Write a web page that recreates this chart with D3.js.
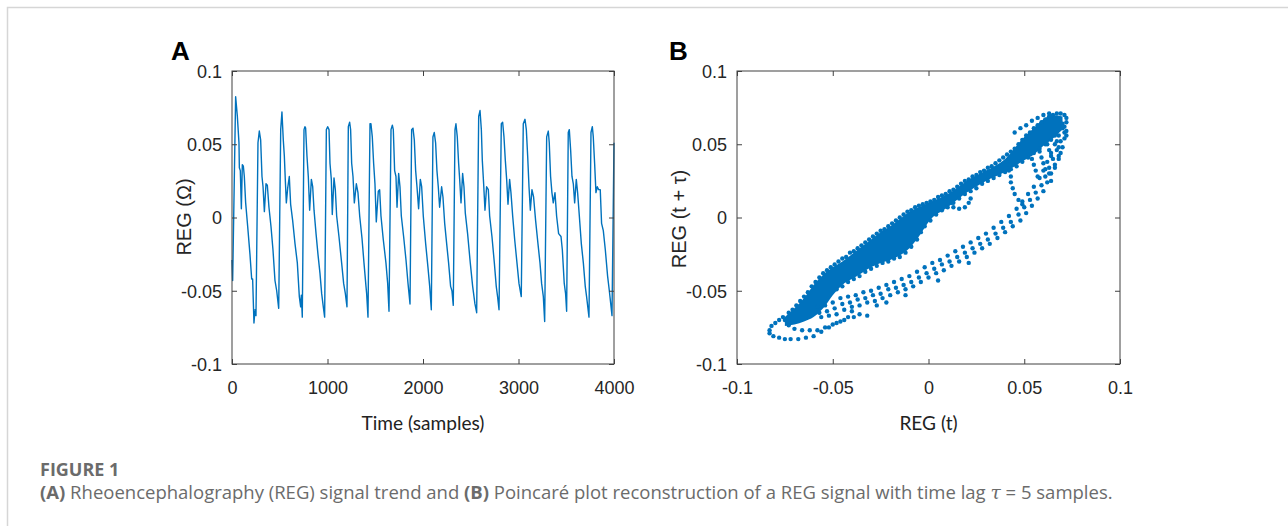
<!DOCTYPE html>
<html lang="en">

<head>
    <meta charset="utf-8">
    <script src="https://d3js.org/d3.v7.min.js"></script>
    <style>
        body { margin: 0; background: #fff; }
    </style>
</head>

<body>
    <script>
        // Panel A: REG signal, vertices (sample index / ohm)
        const regSample = [
            0, 7, 38, 56, 73, 77, 87, 98, 108, 119, 129, 143, 164, 188, 206, 216, 230, 241, 251, 272, 286,
            300, 314, 325, 339, 356, 370, 387, 408, 429, 450, 468, 489, 510, 523,
            537, 548, 558, 569, 583, 600, 614, 635, 660, 684, 705, 719, 726, 736, 754, 764,
            771, 785, 799, 813, 831, 845, 859, 880, 900, 921, 939, 956, 970, 988, 1002,
            1016, 1026, 1040, 1050, 1068, 1082, 1096, 1120, 1148, 1169, 1187, 1204, 1218, 1232,
            1242, 1253, 1267, 1281, 1302, 1319, 1337, 1361, 1382, 1403, 1410, 1424, 1445, 1455,
            1469, 1483, 1497, 1511, 1532, 1546, 1560, 1584, 1612, 1630, 1644, 1665, 1679,
            1689, 1703, 1717, 1728, 1745, 1759, 1773, 1797, 1822, 1843, 1864, 1881, 1895,
            1909, 1923, 1937, 1954, 1972, 1986, 2003, 2028, 2052, 2070, 2087, 2104, 2118,
            2132, 2146, 2160, 2174, 2195, 2209, 2227, 2248, 2268, 2289, 2303, 2317, 2335, 2345,
            2359, 2373, 2384, 2398, 2415, 2429, 2443, 2467, 2495, 2520, 2544, 2562, 2583, 2597,
            2611, 2621, 2635, 2649, 2666, 2684, 2698, 2722, 2747, 2767, 2781, 2796, 2820, 2834,
            2848, 2862, 2876, 2890, 2907, 2921, 2939, 2960, 2984, 3005, 3029, 3050, 3068,
            3082, 3096, 3110, 3124, 3141, 3158, 3179, 3204, 3225, 3242, 3260, 3274, 3295, 3312,
            3322, 3336, 3350, 3364, 3382, 3399, 3420, 3445, 3459, 3479, 3493, 3504, 3521, 3532,
            3546, 3560, 3574, 3588, 3605, 3619, 3637, 3658, 3679, 3699, 3713, 3738, 3759, 3773,
            3783, 3797, 3811, 3825, 3839, 3856, 3870, 3888, 3909, 3933, 3951, 3979, 4000
        ];
        const regValue = [
            -0.029, -0.043, 0.0825, 0.069, 0.051, 0.034, 0.032, 0.006, 0.036, 0.035, 0.028, 0.010, -0.006, -0.025, -0.042, -0.042, -0.072, -0.063, -0.067, 0.051, 0.059,
            0.053, 0.028, 0.021, 0.004, 0.023, 0.022, 0.007, -0.006, -0.022, -0.043, -0.050, -0.062, 0.060, 0.072,
            0.053, 0.042, 0.026, 0.010, 0.020, 0.028, 0.009, -0.002, -0.018, -0.031, -0.054, -0.061, -0.053, -0.068, 0.060, 0.062,
            0.061, 0.042, 0.028, 0.005, 0.026, 0.021, 0.005, -0.011, -0.025, -0.038, -0.052, -0.061, -0.068, 0.060, 0.062,
            0.060, 0.037, 0.026, 0.002, 0.027, 0.019, 0.001, -0.013, -0.031, -0.045, -0.052, -0.061, 0.062, 0.065,
            0.060, 0.037, 0.028, 0.010, 0.023, 0.017, 0.001, -0.014, -0.031, -0.047, -0.052, -0.068, 0.064, 0.064,
            0.055, 0.037, 0.023, -0.003, 0.018, 0.019, 0.001, -0.015, -0.031, -0.045, -0.064, 0.060, 0.063,
            0.060, 0.032, 0.028, 0.007, 0.030, 0.021, 0.001, -0.013, -0.029, -0.045, -0.059, 0.060, 0.061,
            0.053, 0.032, 0.021, 0.006, 0.026, 0.021, 0.001, -0.018, -0.034, -0.047, -0.063, 0.055, 0.058,
            0.051, 0.032, 0.021, 0.007, 0.021, 0.014, -0.004, -0.018, -0.031, -0.047, -0.050, -0.060, 0.060, 0.064,
            0.055, 0.037, 0.026, 0.010, 0.030, 0.021, 0.003, -0.011, -0.031, -0.047, -0.059, -0.065, 0.069, 0.073,
            0.060, 0.039, 0.023, 0.005, 0.021, 0.019, 0.001, -0.013, -0.031, -0.047, -0.054, -0.063, 0.064, 0.065,
            0.055, 0.039, 0.026, 0.009, 0.026, 0.017, 0.001, -0.015, -0.031, -0.045, -0.054, 0.064, 0.067,
            0.060, 0.042, 0.021, 0.005, 0.019, 0.014, -0.002, -0.018, -0.031, -0.045, -0.054, -0.071, 0.055, 0.059,
            0.051, 0.028, 0.017, 0.010, 0.017, 0.001, -0.011, -0.013, -0.022, -0.045, -0.052, -0.064, 0.058, 0.060,
            0.046, 0.028, 0.023, 0.010, 0.026, 0.017, 0.001, -0.018, -0.031, -0.047, -0.054, -0.068, 0.058, 0.062,
            0.055, 0.037, 0.017, 0.021, 0.019, 0.019, -0.004, -0.009, -0.022, -0.040, -0.050, -0.067, 0.051
        ];

        // Panel B: Poincare plot, REG(t) vs REG(t + tau)
        // dense band, read as its top and bottom edge
        const coreX = [-0.075, -0.070, -0.065, -0.060, -0.055, -0.050, -0.045, -0.040, -0.035, -0.030, -0.025, -0.020, -0.015,
            -0.010, -0.005, 0.000, 0.010, 0.020, 0.030, 0.040, 0.050, 0.055, 0.060, 0.065, 0.070];
        const coreTop = [-0.068, -0.062, -0.055, -0.046, -0.039, -0.034, -0.030, -0.025, -0.020, -0.015, -0.010, -0.006, -0.001,
            0.004, 0.007, 0.010, 0.016, 0.025, 0.032, 0.040, 0.055, 0.061, 0.067, 0.070, 0.069];
        const coreBottom = [-0.074, -0.073, -0.071, -0.068, -0.062, -0.053, -0.046, -0.042, -0.038, -0.034, -0.031, -0.029, -0.026,
            -0.021, -0.013, -0.003, 0.007, 0.017, 0.025, 0.031, 0.039, 0.043, 0.049, 0.054, 0.060];

        // single dots that can be seen one by one
        const upperDots = [
            [-0.083, -0.077], [-0.082, -0.074], [-0.080, -0.072], [-0.078, -0.070], [-0.076, -0.068], [-0.073, -0.065],
            [-0.071, -0.063], [-0.069, -0.060], [-0.067, -0.057], [-0.065, -0.054], [-0.063, -0.051], [-0.061, -0.047],
            [-0.059, -0.044], [-0.057, -0.041], [-0.055, -0.038], [-0.053, -0.036], [-0.051, -0.034], [-0.049, -0.032],
            [-0.047, -0.030], [-0.045, -0.028], [-0.043, -0.027], [-0.041, -0.024], [-0.039, -0.023], [-0.037, -0.021],
            [-0.035, -0.019], [-0.033, -0.017], [-0.031, -0.015], [-0.029, -0.013], [-0.027, -0.011], [-0.025, -0.009],
            [-0.023, -0.008], [-0.021, -0.006], [-0.019, -0.004], [-0.017, -0.002], [-0.015, 0.000], [-0.013, 0.002],
            [-0.011, 0.004], [-0.009, 0.005], [-0.007, 0.007], [-0.005, 0.008], [-0.003, 0.009], [-0.001, 0.010],
            [0.001, 0.011], [0.003, 0.012], [0.005, 0.014], [0.007, 0.015], [0.009, 0.016], [0.011, 0.018],
            [0.013, 0.019], [0.015, 0.021], [0.017, 0.023], [0.019, 0.025], [0.021, 0.026], [0.023, 0.028],
            [0.025, 0.029], [0.027, 0.031], [0.029, 0.032], [0.031, 0.034], [0.033, 0.035], [0.035, 0.037],
            [0.037, 0.039], [0.039, 0.041], [0.041, 0.043], [0.043, 0.045], [0.045, 0.047], [0.047, 0.050],
            [0.049, 0.053], [0.051, 0.056], [0.053, 0.058], [0.055, 0.061], [0.057, 0.063], [0.059, 0.065],
            [0.061, 0.067], [0.063, 0.069], [0.065, 0.070], [0.067, 0.071], [0.069, 0.071], [0.071, 0.070],
            [0.072, 0.068], [0.072, 0.065], [0.045, 0.058], [0.048, 0.061], [0.051, 0.063], [0.054, 0.066],
            [0.057, 0.068], [0.060, 0.070], [0.063, 0.071]
        ];
        const lowerDots = [
            [-0.048, -0.049], [-0.045, -0.047], [-0.042, -0.044], [-0.039, -0.042], [-0.036, -0.040], [-0.033, -0.037],
            [-0.030, -0.035], [-0.027, -0.033], [-0.024, -0.031], [-0.021, -0.030], [-0.018, -0.028], [-0.015, -0.027],
            [-0.012, -0.024], [-0.009, -0.020], [-0.006, -0.015], [-0.004, -0.010], [-0.002, -0.006], [0.001, -0.002],
            [0.004, 0.002], [0.007, 0.005], [0.010, 0.007], [0.013, 0.010], [0.016, 0.013], [0.019, 0.016],
            [0.022, 0.018], [0.025, 0.020], [0.028, 0.023], [0.031, 0.025], [0.034, 0.027], [0.037, 0.029],
            [0.040, 0.031], [0.043, 0.033], [0.046, 0.035], [0.049, 0.038], [0.052, 0.041], [0.055, 0.044],
            [0.058, 0.047], [0.061, 0.050], [0.064, 0.053],
            [0.012, 0.010], [0.013, 0.007], [0.016, 0.006], [0.019, 0.007], [0.021, 0.010], [0.022, 0.013]
        ];
        // lower return branch of each beat
        const returnDots = [
            [-0.058, -0.061], [-0.057, -0.065], [-0.056, -0.068], [-0.054, -0.060], [-0.053, -0.064], [-0.052, -0.067],
            [-0.050, -0.058], [-0.049, -0.062], [-0.048, -0.066], [-0.046, -0.055], [-0.045, -0.059], [-0.044, -0.063],
            [-0.042, -0.054], [-0.041, -0.058], [-0.040, -0.061], [-0.038, -0.053], [-0.037, -0.056], [-0.036, -0.060],
            [-0.034, -0.051], [-0.033, -0.055], [-0.032, -0.058], [-0.030, -0.050], [-0.029, -0.053], [-0.028, -0.057],
            [-0.026, -0.048], [-0.025, -0.052], [-0.024, -0.055], [-0.022, -0.046], [-0.021, -0.049], [-0.020, -0.053],
            [-0.018, -0.044], [-0.017, -0.048], [-0.016, -0.051], [-0.014, -0.042], [-0.013, -0.046], [-0.012, -0.049],
            [-0.010, -0.040], [-0.009, -0.044], [-0.008, -0.047], [-0.006, -0.037], [-0.005, -0.041], [-0.004, -0.044],
            [-0.002, -0.034], [-0.001, -0.038], [0.000, -0.041], [0.002, -0.031], [0.003, -0.035], [0.004, -0.038],
            [0.006, -0.029], [0.007, -0.032], [0.008, -0.036], [0.010, -0.026], [0.011, -0.030], [0.012, -0.033],
            [0.014, -0.023], [0.015, -0.027], [0.016, -0.030], [0.018, -0.020], [0.019, -0.024], [0.020, -0.027],
            [0.022, -0.017], [0.023, -0.021], [0.024, -0.024], [0.026, -0.014], [0.027, -0.018], [0.028, -0.021],
            [0.030, -0.011], [0.031, -0.015], [0.032, -0.018], [0.034, -0.007], [0.035, -0.011], [0.036, -0.014],
            [0.038, -0.003], [0.039, -0.007], [0.040, -0.010], [0.042, 0.001], [0.043, -0.003], [0.044, -0.006],
            [0.046, 0.006], [0.047, 0.002], [0.048, -0.002], [0.049, 0.011], [0.050, 0.007], [0.051, 0.003],
            [0.052, 0.016], [0.053, 0.012], [0.054, 0.008], [0.055, 0.021], [0.056, 0.017], [0.057, 0.013],
            [0.058, 0.027], [0.059, 0.022], [0.060, 0.018], [0.060, 0.032], [0.061, 0.028], [0.062, 0.024],
            [0.062, 0.038], [0.063, 0.034], [0.064, 0.030], [0.064, 0.044], [0.065, 0.040], [0.066, 0.036],
            [0.066, 0.050], [0.067, 0.046], [0.068, 0.042], [0.068, 0.056], [0.069, 0.052], [0.070, 0.048],
            [0.070, 0.061], [0.071, 0.058], [0.071, 0.054],
            [-0.022, -0.058], [-0.012, -0.053], [0.005, -0.043], [0.021, -0.031], [-0.027, -0.060]
        ];
        // loop at the bottom left (troughs)
        const loopDots = [
            [-0.083, -0.079], [-0.081, -0.081], [-0.078, -0.082], [-0.075, -0.083], [-0.072, -0.083], [-0.068, -0.083],
            [-0.064, -0.082], [-0.060, -0.081], [-0.056, -0.078], [-0.052, -0.075], [-0.048, -0.072], [-0.044, -0.070],
            [-0.039, -0.068], [-0.075, -0.070], [-0.073, -0.0735], [-0.070, -0.076], [-0.066, -0.077], [-0.062, -0.077],
            [-0.058, -0.077], [-0.054, -0.075], [-0.050, -0.073], [-0.046, -0.071], [-0.042, -0.068], [-0.036, -0.066],
            [-0.032, -0.067], [-0.040, -0.064]
        ];
        // fan of dots under the peaks (top right)
        const fanDots = [
            [0.042, 0.040], [0.042, 0.036], [0.042, 0.032], [0.043, 0.028], [0.043, 0.024], [0.044, 0.020],
            [0.045, 0.016], [0.047, 0.012], [0.049, 0.009],
            [0.054, 0.040], [0.055, 0.036], [0.056, 0.032], [0.057, 0.028], [0.058, 0.045], [0.059, 0.041],
            [0.060, 0.037], [0.061, 0.033], [0.062, 0.050], [0.063, 0.046], [0.064, 0.042], [0.063, 0.030],
            [0.064, 0.025], [0.066, 0.056], [0.067, 0.052], [0.068, 0.048], [0.069, 0.044], [0.070, 0.064],
            [0.071, 0.062], [0.072, 0.059], [0.072, 0.056], [0.066, 0.034], [0.068, 0.040]
        ];

        // tick values and their labels
        const sampleTicks = [0, 1000, 2000, 3000, 4000];
        const sampleTickLabels = ["0", "1000", "2000", "3000", "4000"];
        const regTicks = [-0.1, -0.05, 0, 0.05, 0.1];
        const regTickLabels = ["-0.1", "-0.05", "0", "0.05", "0.1"];

        const blue = "#0072BD";
        const axisFont = "'Liberation Sans', Arial, sans-serif";
        const labelFont = "Lato, 'Open Sans', sans-serif";
        const captionFont = "'Open Sans', Lato, sans-serif";

        const svg = d3.select("body").append("svg")
            .attr("width", 1288)
            .attr("height", 526);

        // light frame round the figure (top and left edge)
        svg.append("path")
            .attr("d", "M7.5,526V7.5H1288")
            .attr("fill", "none")
            .attr("stroke", "#d6d6d6")
            .attr("stroke-width", 1.5);

        // draws a MATLAB style box with ticks on all four sides
        function drawBox(box, x, y, xTicks, xLabels, yTicks, yLabels) {
            const g = svg.append("g")
                .attr("color", "#262626");

            const bottom = g.append("g")
                .attr("transform", "translate(0," + box.bottom + ")")
                .call(d3.axisBottom(x).tickValues(xTicks).tickFormat((d, i) => xLabels[i])
                    .tickSizeInner(-5).tickSizeOuter(0).tickPadding(17));
            const left = g.append("g")
                .attr("transform", "translate(" + box.left + ",0)")
                .call(d3.axisLeft(y).tickValues(yTicks).tickFormat((d, i) => yLabels[i])
                    .tickSizeInner(-5).tickSizeOuter(0).tickPadding(10));
            g.append("g")
                .attr("transform", "translate(0," + box.top + ")")
                .call(d3.axisTop(x).tickValues(xTicks).tickFormat("").tickSizeInner(-5).tickSizeOuter(0));
            g.append("g")
                .attr("transform", "translate(" + box.right + ",0)")
                .call(d3.axisRight(y).tickValues(yTicks).tickFormat("").tickSizeInner(-5).tickSizeOuter(0));

            // the axis sets its own small font on each group, so override it there
            g.selectAll("g")
                .attr("font-family", axisFont)
                .attr("font-size", 18);
            g.selectAll(".domain").remove();
            g.selectAll(".tick line").attr("stroke", "#404040");
            left.selectAll("text").attr("dy", "0.35em");

            g.append("rect")
                .attr("x", box.left)
                .attr("y", box.top)
                .attr("width", box.right - box.left)
                .attr("height", box.bottom - box.top)
                .attr("fill", "none")
                .attr("stroke", "#404040")
                .attr("stroke-width", 1);
        }

        // ---------- panel A ----------
        const boxA = { left: 232, right: 614, top: 71, bottom: 364 };
        const xA = d3.scaleLinear().domain([0, 4000]).range([boxA.left, boxA.right]);
        const yA = d3.scaleLinear().domain([-0.1, 0.1]).range([boxA.bottom, boxA.top]);

        const line = d3.line()
            .x((d, i) => xA(regSample[i]))
            .y(d => yA(d));

        svg.append("path")
            .datum(regValue)
            .attr("d", line)
            .attr("fill", "none")
            .attr("stroke", blue)
            .attr("stroke-width", 1.4)
            .attr("stroke-linejoin", "round");

        drawBox(boxA, xA, yA, sampleTicks, sampleTickLabels, regTicks, regTickLabels);

        // ---------- panel B ----------
        const boxB = { left: 737, right: 1120, top: 71, bottom: 364 };
        const xB = d3.scaleLinear().domain([-0.1, 0.1]).range([boxB.left, boxB.right]);
        const yB = d3.scaleLinear().domain([-0.1, 0.1]).range([boxB.bottom, boxB.top]);

        // the overlapping dots of the band look like a solid fill
        const band = d3.area()
            .x((d, i) => xB(coreX[i]))
            .y0((d, i) => yB(coreBottom[i]))
            .y1((d, i) => yB(coreTop[i]))
            .curve(d3.curveMonotoneX);

        svg.append("path")
            .datum(coreX)
            .attr("d", band)
            .attr("fill", blue);

        const dots = upperDots.concat(lowerDots, returnDots, loopDots, fanDots);
        svg.append("g")
            .selectAll("circle")
            .data(dots)
            .enter()
            .append("circle")
            .attr("cx", d => xB(d[0]))
            .attr("cy", d => yB(d[1]))
            .attr("r", 2.2)
            .attr("fill", blue);

        drawBox(boxB, xB, yB, regTicks, regTickLabels, regTicks, regTickLabels);

        // ---------- texts ----------
        svg.append("text").attr("x", 171).attr("y", 60)
            .attr("font-family", axisFont).attr("font-weight", "bold").attr("font-size", 26)
            .text("A");
        svg.append("text").attr("x", 669).attr("y", 60)
            .attr("font-family", axisFont).attr("font-weight", "bold").attr("font-size", 26)
            .text("B");

        // y axis titles
        svg.append("text")
            .attr("transform", "translate(191,217) rotate(-90)")
            .attr("text-anchor", "middle")
            .attr("font-family", axisFont).attr("font-size", 20).attr("fill", "#262626")
            .text("REG (Ω)");
        svg.append("text")
            .attr("transform", "translate(686,219) rotate(-90)")
            .attr("text-anchor", "middle")
            .attr("font-family", axisFont).attr("font-size", 20).attr("fill", "#262626")
            .text("REG (t + τ)");

        // x axis titles
        const timeLabel = svg.append("text")
            .attr("x", (boxA.left + boxA.right) / 2).attr("y", 430)
            .attr("text-anchor", "middle")
            .attr("font-family", labelFont).attr("font-size", 17).attr("fill", "#222")
            .text("Time (samples)");
        const regLabel = svg.append("text")
            .attr("x", (boxB.left + boxB.right) / 2).attr("y", 430)
            .attr("text-anchor", "middle")
            .attr("font-family", labelFont).attr("font-size", 17).attr("fill", "#222")
            .text("REG (t)");
        // keep the label widths close to the figure
        const labelSize = 17 * 123 / timeLabel.node().getComputedTextLength();
        timeLabel.attr("font-size", labelSize);
        regLabel.attr("font-size", labelSize);

        // caption
        svg.append("text")
            .attr("x", 40).attr("y", 476)
            .attr("font-family", captionFont).attr("font-weight", "bold")
            .attr("font-size", 18).attr("fill", "#6b6b6b")
            .text("FIGURE 1");

        const caption = svg.append("text")
            .attr("x", 40).attr("y", 499)
            .attr("font-family", captionFont)
            .attr("font-size", 15).attr("fill", "#6b6b6b");
        caption.append("tspan").attr("font-weight", "bold").text("(A)");
        caption.append("tspan").text(" Rheoencephalography (REG) signal trend and ");
        caption.append("tspan").attr("font-weight", "bold").text("(B)");
        caption.append("tspan").text(" Poincaré plot reconstruction of a REG signal with time lag ");
        caption.append("tspan").attr("font-family", "'DejaVu Serif', serif").attr("font-style", "italic").text("τ");
        caption.append("tspan").text(" = 5 samples.");
        caption.attr("font-size", 15 * 1073 / caption.node().getComputedTextLength());
    </script>
</body>

</html>
